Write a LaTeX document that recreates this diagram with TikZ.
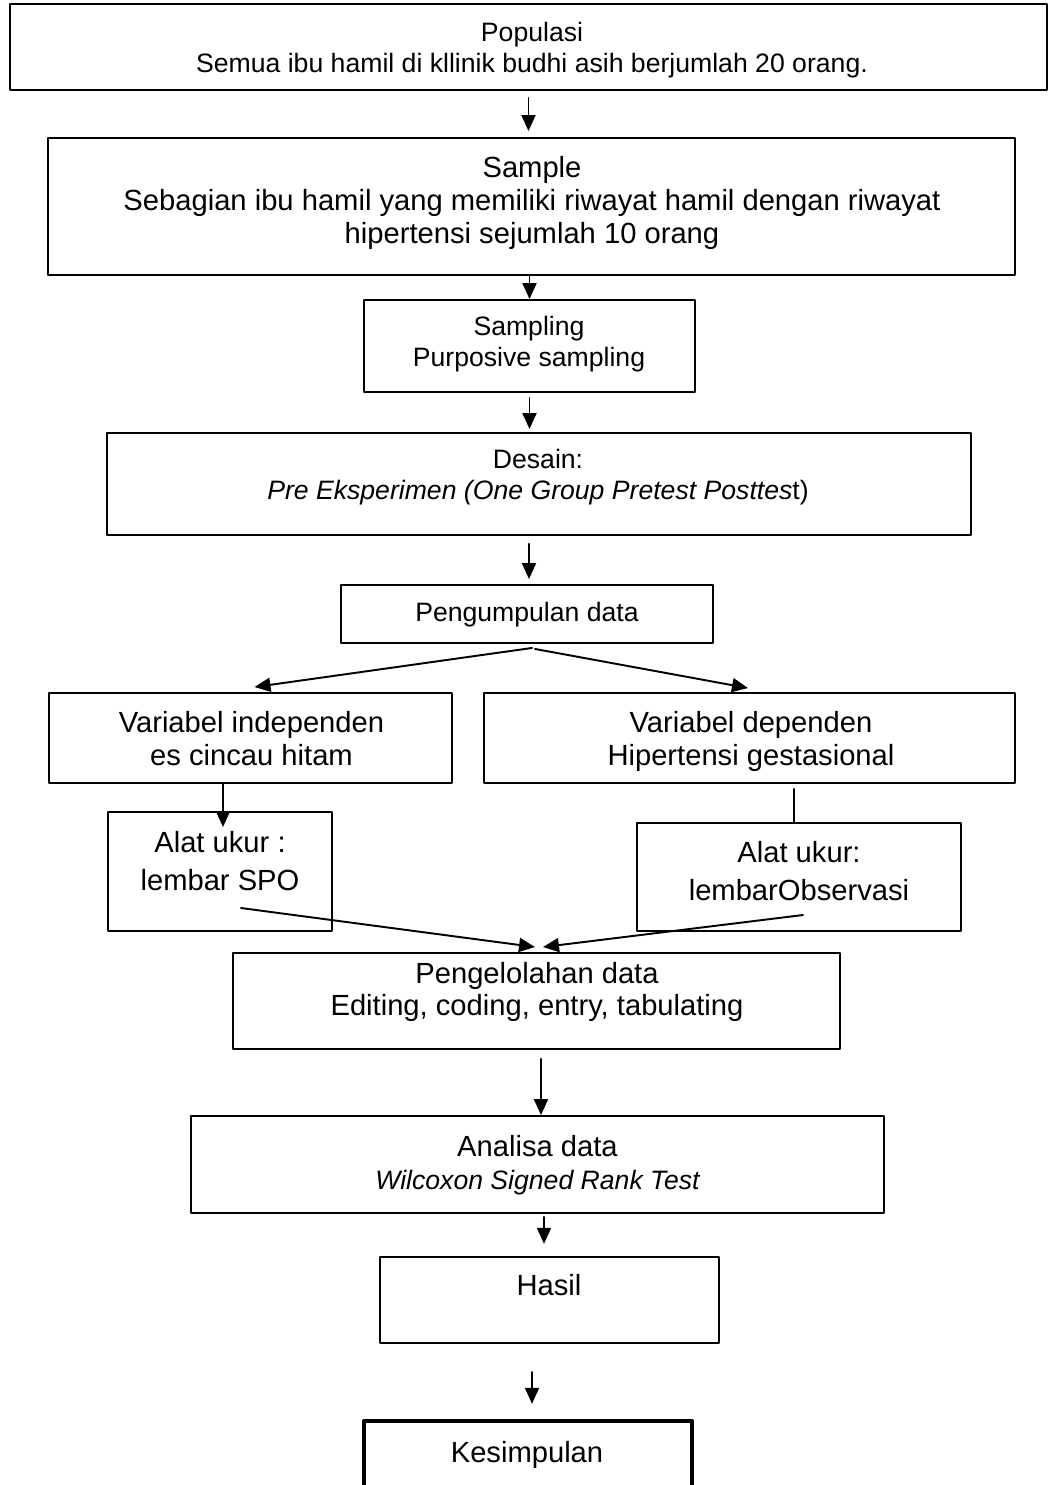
\documentclass[tikz,border=0pt]{standalone}
\usepackage{fontspec}
\setmainfont{Liberation Sans}
\usepackage{tikz}
\usetikzlibrary{arrows.meta,calc}
\definecolor{kotak}{rgb}{0,0,0}
\newcommand{\kecil}{\fontsize{15.15}{17.6}\selectfont}
\newcommand{\besar}{\fontsize{16.6}{18.7}\selectfont}

\begin{document}
\begin{tikzpicture}[line cap=round,line join=round,x=0.02cm,y=-0.02cm,
		box/.style={draw=kotak,line width=1.1pt,inner sep=0pt},
		tebal/.style={draw=kotak,line width=2.55pt,inner sep=0pt},
		txtkecil/.style={align=center,inner sep=0pt,font=\kecil},
		txtbesar/.style={align=center,inner sep=0pt,font=\besar},
		txtalat/.style={align=center,inner sep=0pt,font=\fontsize{16.6}{21.5}\selectfont},
		panah/.style={line width=1.1pt,-{Triangle[length=0.32cm,width=0.28cm]}}]
		\clip (0,0) rectangle (1049,1485);
		\node[box,minimum width=20.74cm,minimum height=1.72cm] (pop) at (528.5,47) {};
		\node[box,minimum width=19.34cm,minimum height=2.74cm] (samp) at (531.5,206.5) {};
		\node[box,minimum width=6.62cm,minimum height=1.84cm] (smpl) at (529.5,346) {};
		\node[box,minimum width=17.28cm,minimum height=2.04cm] (desain) at (539,484) {};
		\node[box,minimum width=7.44cm,minimum height=1.16cm] (kumpul) at (527,614) {};
		\node[box,minimum width=8.06cm,minimum height=1.80cm] (indep) at (250.5,738) {};
		\node[box,minimum width=10.62cm,minimum height=1.80cm] (dep) at (749.5,738) {};
		\node[box,minimum width=4.48cm,minimum height=2.38cm] (alatL) at (220,871.5) {};
		\node[box,minimum width=6.48cm,minimum height=2.16cm] (alatR) at (799,877) {};
		\node[box,minimum width=12.14cm,minimum height=1.92cm] (olah) at (536.5,1001) {};
		\node[box,minimum width=13.86cm,minimum height=1.94cm] (analisa) at (537.5,1164.5) {};
		\node[box,line width=1.3pt,minimum width=6.78cm,minimum height=1.72cm] (hasil) at (549.5,1300) {};
		\node[tebal,minimum width=6.56cm,minimum height=1.38cm] (simpul) at (528,1455.5) {};
		\node[txtkecil] (popT) at (532,50) {Populasi\\Semua ibu hamil di kllinik budhi asih berjumlah 20 orang.};
		\node[txtbesar] (sampT) at (532,203) {Sample\\Sebagian ibu hamil yang memiliki riwayat hamil dengan riwayat\\hipertensi sejumlah 10 orang};
		\node[txtkecil] (smplT) at (529,344.5) {Sampling\\Purposive sampling};
		\node[txtkecil] (desainT) at (538,477.5) {Desain:\\\textit{Pre Eksperimen (One Group Pretest Posttes}t)};
		\node[txtkecil] (kumpulT) at (527,614.5) {Pengumpulan data};
		\node[txtbesar] (indepT) at (251.5,738.5) {Variabel independen\\es cincau hitam};
		\node[txtbesar] (depT) at (751,741.5) {Variabel dependen\\Hipertensi gestasional};
		\node[txtalat] (alatLT) at (220,861) {Alat ukur :\\lembar SPO};
		\node[txtalat] (alatRT) at (799,871) {Alat ukur:\\lembarObservasi};
		\node[txtbesar] (olahT) at (537,992) {Pengelolahan data\\Editing, coding, entry, tabulating};
		\node[txtbesar] (analisaT) at (537.5,1165) {Analisa data\\{\kecil\itshape Wilcoxon Signed Rank Test}};
		\node[txtbesar] (hasilT) at (549,1285) {Hasil};
		\node[txtbesar] (simpulT) at (527,1455) {Kesimpulan};
		\draw[panah] ($(pop.south)+(0,7)$) -- ($(pop.south |- samp.north)+(0,-6)$);
		\draw[panah] (samp.south -| smpl.north) -- (smpl.north);
		\draw[panah] ($(smpl.south)+(0,5)$) -- ($(smpl.south |- desain.north)+(0,-3)$);
		\draw[panah] ($(desain.south -| kumpul.north)+(2,8)$) -- ($(kumpul.north)+(2,-5)$);
		\draw[panah] ($(kumpul.south)+(5,4)$) -- ($(indep.north)+(4,-5)$);
		\draw[panah] ($(kumpul.south)+(8,5)$) -- ($(dep.north)+(-1.5,-4)$);
		\draw[panah] ($(alatL.north |- indep.south)+(3,0)$) -- ($(alatL.north)+(3,16)$);
		\draw[line width=1.1pt] ($(dep.south -| alatR.north)+(-5,5)$) -- ($(alatR.north)+(-5,0)$);
		\draw[panah] ($(alatL.center)+(21,36.5)$) -- ($(olah.north)+(-1.5,-5)$);
		\draw[panah] ($(alatR.center)+(4,38)$) -- ($(olah.north)+(6.5,-5)$);
		\draw[panah] ($(olah.south)+(4.5,9)$) -- ($(analisa.north)+(3.5,0)$);
		\draw[panah] ($(analisa.south -| hasil.north)+(-5.5,3)$) -- ($(hasil.north)+(-5.5,-12)$);
		\draw[panah] ($(hasil.south)+(-17.5,28)$) -- ($(simpul.north)+(4,-15)$);
	\end{tikzpicture}
\end{document}
